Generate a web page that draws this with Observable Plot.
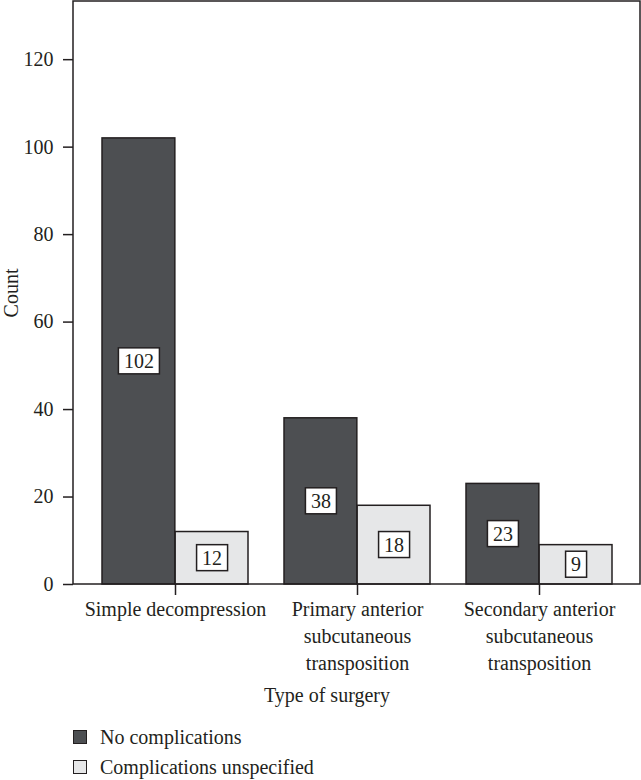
<!DOCTYPE html>
<html><head><meta charset="utf-8">
<script src="https://cdn.jsdelivr.net/npm/d3@7"></script>
<script src="https://cdn.jsdelivr.net/npm/@observablehq/plot@0.6"></script>
<style>
body{margin:0;background:#fff;}
#wrap{position:relative;width:641px;height:780px;font-family:"Liberation Serif",serif;color:#231f20;overflow:hidden;}
#wrap svg{position:absolute;left:0;top:0;}
.xlabel{position:absolute;top:683px;left:227px;width:200px;text-align:center;font-size:20px;line-height:24px;}
.leg{position:absolute;left:73px;font-size:20px;line-height:24px;height:24px;display:flex;align-items:center;}
.sw{width:12px;height:12px;border:1px solid #231f20;margin-right:13px;}
</style></head><body><div id="wrap"></div><script>
const categories = ["Simple decompression", "Primary anterior subcutaneous transposition", "Secondary anterior subcutaneous transposition"];
const tickLabels = ["Simple decompression", "Primary anterior\nsubcutaneous\ntransposition", "Secondary anterior\nsubcutaneous\ntransposition"];
const series = ["No complications", "Complications unspecified"];
const colors = ["#4d4f52", "#e6e7e8"];
const noComplications = [102, 38, 23];
const complicationsUnspecified = [12, 18, 9];
const yTicks = [0, 20, 40, 60, 80, 100, 120];
const xTitle = "Type of surgery";
const yTitle = "Count";

const dark = categories.map((c, i) => ({category: c, series: series[0], value: noComplications[i]}));
const light = categories.map((c, i) => ({category: c, series: series[1], value: complicationsUnspecified[i]}));

const W = 641, H = 680, ML = 73, MT = 1, MR = 1, MB = 96;
const ink = "#231f20";
const xOpts = {type: "band", domain: categories, range: [ML, W - MR], paddingInner: 0.2, paddingOuter: 0.15};
const bw = Plot.scale({x: xOpts}).bandwidth;
const half = bw / 2;

const plot = Plot.plot({
  width: W, height: H, marginLeft: ML, marginTop: MT, marginRight: MR, marginBottom: MB,
  style: {fontFamily: "Liberation Serif", fontSize: "20px", color: ink, background: "transparent"},
  x: xOpts,
  y: {domain: [0, 133.3]},
  color: {domain: series, range: colors},
  marks: [
    Plot.barY(dark, {x: "category", y: "value", fill: "series", stroke: ink, strokeWidth: 1.5, insetRight: half}),
    Plot.barY(light, {x: "category", y: "value", fill: "series", stroke: ink, strokeWidth: 1.5, insetLeft: half}),
    Plot.text(dark, {x: "category", y: d => d.value / 2, text: d => String(d.value), fill: ink, fontSize: 20, dx: -bw / 4}),
    Plot.text(light, {x: "category", y: d => d.value / 2, text: d => String(d.value), fill: ink, fontSize: 20, dx: bw / 4}),
    Plot.text([yTitle], {frameAnchor: "left", textAnchor: "middle", rotate: -90, dx: -62, fontSize: 20, fill: ink}),
    Plot.axisY({ticks: yTicks, tickSize: 10, tickPadding: 10, strokeWidth: 1.5, label: null}),
    Plot.axisX({tickSize: 11, tickPadding: 2, strokeWidth: 1.5, tickFormat: d => tickLabels[categories.indexOf(d)], lineHeight: 1.33, label: null})
  ]
});
const wrap = document.getElementById("wrap");
wrap.appendChild(plot);

// boxes behind value labels
const valueSet = new Set([...noComplications, ...complicationsUnspecified].map(String));
plot.querySelectorAll('g[aria-label="text"] text').forEach(t => {
  if (!valueSet.has(t.textContent)) return;
  const bb = t.getBBox();
  const r = document.createElementNS("http://www.w3.org/2000/svg", "rect");
  r.setAttribute("x", bb.x - 5.5);
  r.setAttribute("y", bb.y - 2);
  r.setAttribute("width", bb.width + 11);
  r.setAttribute("height", bb.height + 4);
  r.setAttribute("fill", "#fff");
  r.setAttribute("stroke", ink);
  r.setAttribute("stroke-width", 1.5);
  const tr = t.getAttribute("transform");
  if (tr) r.setAttribute("transform", tr);
  t.parentNode.insertBefore(r, t);
});
// frame
const fr = document.createElementNS("http://www.w3.org/2000/svg", "rect");
fr.setAttribute("x", ML); fr.setAttribute("y", MT);
fr.setAttribute("width", W - ML - MR); fr.setAttribute("height", H - MT - MB);
fr.setAttribute("fill", "none"); fr.setAttribute("stroke", ink); fr.setAttribute("stroke-width", 1.5);
plot.appendChild(fr);

const xl = document.createElement("div");
xl.className = "xlabel"; xl.textContent = xTitle; wrap.appendChild(xl);
series.forEach((s, i) => {
  const d = document.createElement("div");
  d.className = "leg"; d.style.top = (725 + i * 30) + "px";
  const sw = document.createElement("span"); sw.className = "sw"; sw.style.background = colors[i];
  d.appendChild(sw); d.appendChild(document.createTextNode(s));
  wrap.appendChild(d);
});
</script></body></html>
